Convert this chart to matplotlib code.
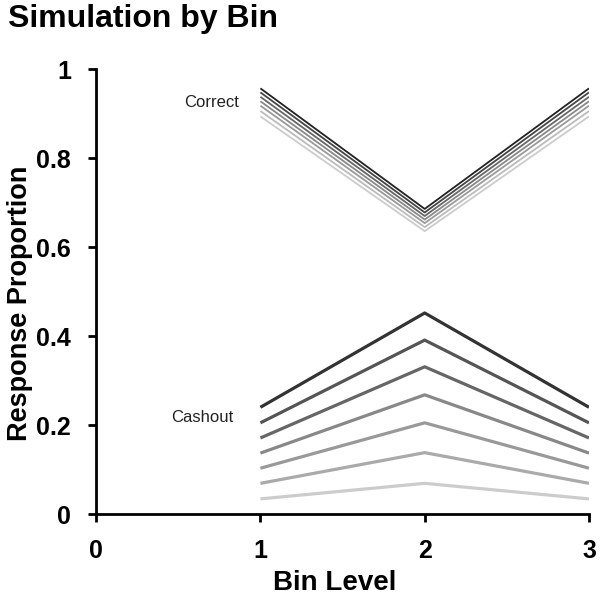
import matplotlib
matplotlib.use('Agg')
import matplotlib.pyplot as plt

plt.rcParams['font.family'] = ['Liberation Sans', 'DejaVu Sans']

bins = [1, 2, 3]

# correct proportions, darkest to lightest
correct = [
    [0.957, 0.686, 0.957],
    [0.948, 0.678, 0.948],
    [0.938, 0.670, 0.938],
    [0.928, 0.662, 0.928],
    [0.918, 0.654, 0.918],
    [0.906, 0.645, 0.906],
    [0.894, 0.636, 0.894],
]
correct_colors = ['#222222', '#444444', '#666666', '#888888', '#999999', '#bbbbbb', '#cccccc']

# cashout proportions, darkest to lightest
cashout = [
    [0.240, 0.452, 0.240],
    [0.205, 0.391, 0.205],
    [0.171, 0.331, 0.171],
    [0.137, 0.268, 0.137],
    [0.103, 0.205, 0.103],
    [0.069, 0.138, 0.069],
    [0.034, 0.069, 0.034],
]
cashout_colors = ['#333333', '#555555', '#666666', '#888888', '#999999', '#aaaaaa', '#cccccc']

fig = plt.figure(figsize=(6.01, 5.97), dpi=100)
ax = fig.add_axes([0.16, 0.139, 0.82, 0.745])

for ys, c in zip(correct, correct_colors):
    ax.plot(bins, ys, color=c, linewidth=1.3, solid_capstyle='butt')
for ys, c in zip(cashout, cashout_colors):
    ax.plot(bins, ys, color=c, linewidth=2.3, solid_capstyle='butt')

ax.text(0.87, 0.926, 'Correct', ha='right', va='center', fontsize=12, color='#222222')
ax.text(0.834, 0.216, 'Cashout', ha='right', va='center', fontsize=12, color='#222222')

ax.set_xlim(0, 3)
ax.set_ylim(0, 1)
ax.set_xticks([0, 1, 2, 3])
ax.set_yticks([0, 0.2, 0.4, 0.6, 0.8, 1])
ax.set_yticklabels(['0', '0.2', '0.4', '0.6', '0.8', '1'])
for lab in ax.get_xticklabels() + ax.get_yticklabels():
    lab.set_fontweight('bold')
    lab.set_fontsize(18)
ax.tick_params(axis='both', direction='out', length=6, width=2, pad=12)

for s in ['top', 'right']:
    ax.spines[s].set_visible(False)
for s in ['left', 'bottom']:
    ax.spines[s].set_linewidth(2)

ax.set_xlabel('Bin Level', fontsize=20, fontweight='bold')
ax.xaxis.set_label_coords(0.483, -0.125)
ax.set_ylabel('Response Proportion', fontsize=19.5, fontweight='bold')
ax.yaxis.set_label_coords(-0.128, 0.474)

fig.text(0.013, 0.968, 'Simulation by Bin', fontsize=23, fontweight='bold', va='center')

fig.savefig('out.png', dpi=100)
